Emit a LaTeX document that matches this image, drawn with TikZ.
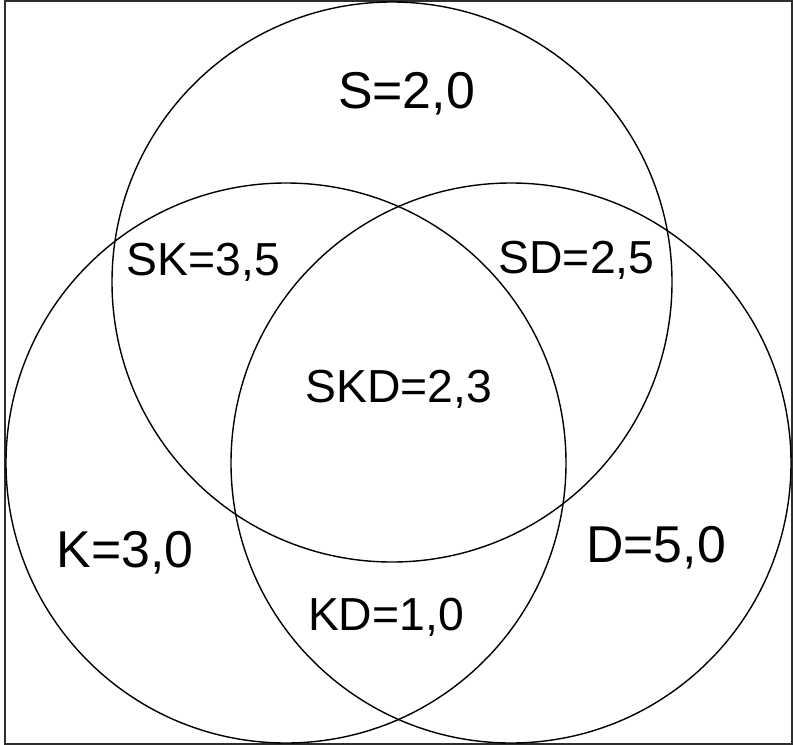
\documentclass[tikz,border=0pt]{standalone}
\usepackage{fontspec}
\setmainfont{Liberation Sans}
\definecolor{vnInk}{HTML}{000000}
\definecolor{vnFrame}{HTML}{2E2E2E}

\begin{document}
\begin{tikzpicture}[x=1bp,y=-1bp,
		setlabel/.style={font=\fontsize{52}{60}\selectfont,anchor=base,inner sep=0pt},
		cutlabel/.style={font=\fontsize{46.5}{54}\selectfont,anchor=base,inner sep=0pt}]
		\useasboundingbox (0,0) rectangle (793,745);
		\draw[vnFrame,line width=2bp] (4.5,1.5) rectangle (791.5,743.5);
		% the three sets
		\foreach \cx/\cy in {392/282,286/463,511/463}{\draw[vnInk,line width=1.4bp] (\cx,\cy) circle (280);}
		\node[setlabel] (s) at (406.5,108) {S=2,0};
		\node[setlabel] (k) at (125,567) {K=3,0};
		\node[setlabel] (d) at (656,562) {D=5,0};
		\node[cutlabel] (sk) at (203.5,275) {SK=3,5};
		\node[cutlabel] (sd) at (576.5,273) {SD=2,5};
		\node[cutlabel] (skd) at (399,402) {SKD=2,3};
		\node[cutlabel] (kd) at (386,630) {KD=1,0};
	\end{tikzpicture}
\end{document}
